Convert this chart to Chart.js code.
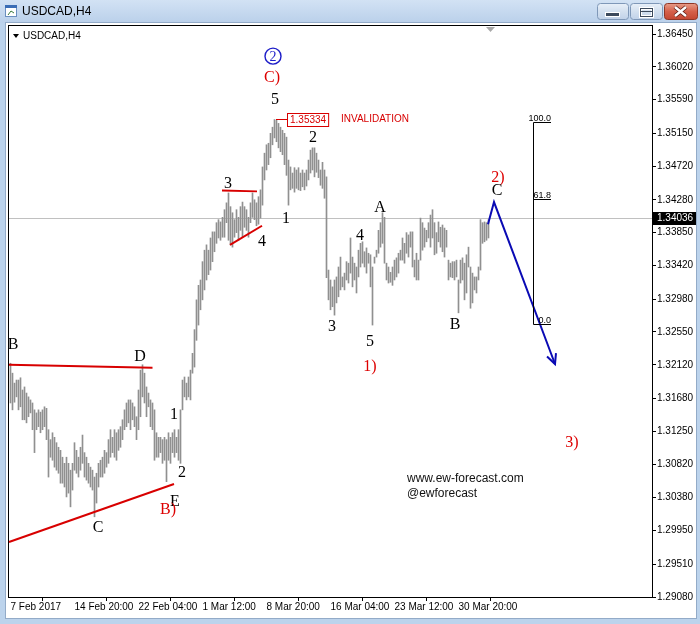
<!DOCTYPE html>
<html><head><meta charset="utf-8">
<script src="https://cdn.jsdelivr.net/npm/chart.js@4/dist/chart.umd.min.js"></script>
<style>html,body{margin:0;padding:0;background:#fff;overflow:hidden}canvas{display:block}</style>
</head><body>
<canvas id="c" width="700" height="624"></canvas>
<script>
// ---- DATA (USDCAD H4 bars, high / low) ----
const barHigh = [
1.3214,1.3201,1.3188,1.3192,1.3192,1.3195,1.3179,1.3183,1.3175,1.3170,
1.3166,1.3162,1.3153,1.3149,1.3153,1.3150,1.3153,1.3157,1.3155,1.3127,
1.3114,1.3123,1.3117,1.3110,1.3104,1.3100,1.3091,1.3083,1.3091,1.3083,
1.3074,1.3083,1.3110,1.3100,1.3091,1.3104,1.3120,1.3097,1.3091,1.3083,
1.3078,1.3074,1.3065,1.3070,1.3083,1.3087,1.3091,1.3100,1.3097,1.3114,
1.3127,1.3117,1.3127,1.3123,1.3127,1.3131,1.3140,1.3153,1.3162,1.3166,
1.3166,1.3162,1.3157,1.3144,1.3179,1.3205,1.3212,1.3201,1.3183,1.3175,
1.3166,1.3162,1.3153,1.3123,1.3117,1.3117,1.3114,1.3117,1.3114,1.3123,
1.3117,1.3123,1.3127,1.3117,1.3127,1.3153,1.3192,1.3196,1.3188,1.3196,
1.3205,1.3227,1.3258,1.3297,1.3316,1.3323,1.3347,1.3362,1.3369,1.3362,
1.3378,1.3386,1.3386,1.3398,1.3402,1.3399,1.3405,1.3415,1.3424,1.3437,
1.3419,1.3411,1.3402,1.3415,1.3405,1.3419,1.3425,1.3419,1.3415,1.3405,
1.3424,1.3437,1.3428,1.3424,1.3432,1.3441,1.3471,1.3489,1.3500,1.3502,
1.3515,1.3523,1.3533,1.3532,1.3528,1.3523,1.3519,1.3515,1.3510,1.3480,
1.3471,1.3463,1.3470,1.3467,1.3470,1.3463,1.3467,1.3463,1.3467,1.3480,
1.3493,1.3496,1.3496,1.3489,1.3480,1.3467,1.3477,1.3467,1.3458,1.3336,
1.3323,1.3314,1.3323,1.3327,1.3340,1.3353,1.3327,1.3332,1.3347,1.3345,
1.3378,1.3353,1.3345,1.3340,1.3362,1.3371,1.3373,1.3360,1.3365,1.3358,
1.3356,1.3340,1.3353,1.3362,1.3388,1.3398,1.3411,1.3405,1.3345,1.3340,
1.3333,1.3340,1.3349,1.3352,1.3358,1.3362,1.3378,1.3371,1.3385,1.3382,
1.3386,1.3386,1.3349,1.3358,1.3349,1.3404,1.3398,1.3391,1.3388,1.3398,
1.3408,1.3415,1.3398,1.3385,1.3399,1.3392,1.3395,1.3391,1.3388,1.3349,
1.3345,1.3347,1.3347,1.3349,1.3323,1.3349,1.3352,1.3345,1.3356,1.3366,
1.3340,1.3332,1.3327,1.3327,1.3340,1.3402,1.3398,1.3399,1.3398,1.3402
];
const barLow = [
1.3162,1.3153,1.3163,1.3170,1.3153,1.3157,1.3140,1.3140,1.3136,1.3144,
1.3149,1.3127,1.3097,1.3127,1.3131,1.3123,1.3127,1.3131,1.3114,1.3065,
1.3091,1.3087,1.3078,1.3074,1.3070,1.3057,1.3057,1.3052,1.3039,1.3044,
1.3026,1.3048,1.3074,1.3070,1.3065,1.3074,1.3083,1.3065,1.3061,1.3057,
1.3052,1.3048,1.3013,1.3031,1.3052,1.3065,1.3065,1.3070,1.3078,1.3083,
1.3091,1.3097,1.3091,1.3087,1.3100,1.3104,1.3114,1.3127,1.3131,1.3136,
1.3127,1.3140,1.3131,1.3114,1.3127,1.3144,1.3170,1.3162,1.3144,1.3157,
1.3131,1.3127,1.3087,1.3091,1.3091,1.3097,1.3083,1.3087,1.3059,1.3087,
1.3083,1.3097,1.3091,1.3097,1.3087,1.3083,1.3153,1.3170,1.3166,1.3170,
1.3166,1.3201,1.3209,1.3244,1.3264,1.3284,1.3297,1.3310,1.3323,1.3330,
1.3336,1.3347,1.3360,1.3371,1.3378,1.3375,1.3379,1.3379,1.3398,1.3375,
1.3369,1.3366,1.3379,1.3385,1.3375,1.3388,1.3379,1.3392,1.3388,1.3379,
1.3398,1.3405,1.3402,1.3394,1.3396,1.3404,1.3421,1.3454,1.3467,1.3474,
1.3483,1.3500,1.3509,1.3504,1.3496,1.3491,1.3487,1.3474,1.3460,1.3421,
1.3441,1.3443,1.3438,1.3443,1.3441,1.3440,1.3445,1.3441,1.3446,1.3454,
1.3463,1.3467,1.3458,1.3464,1.3457,1.3447,1.3443,1.3430,1.3326,1.3297,
1.3284,1.3288,1.3277,1.3293,1.3301,1.3310,1.3314,1.3310,1.3323,1.3319,
1.3332,1.3314,1.3323,1.3306,1.3327,1.3340,1.3345,1.3340,1.3332,1.3345,
1.3314,1.3264,1.3345,1.3353,1.3358,1.3366,1.3371,1.3345,1.3323,1.3319,
1.3320,1.3316,1.3323,1.3327,1.3332,1.3349,1.3349,1.3345,1.3358,1.3353,
1.3366,1.3340,1.3327,1.3323,1.3323,1.3349,1.3362,1.3366,1.3373,1.3378,
1.3366,1.3378,1.3356,1.3358,1.3373,1.3366,1.3360,1.3353,1.3366,1.3323,
1.3327,1.3326,1.3323,1.3327,1.3280,1.3319,1.3323,1.3297,1.3306,1.3340,
1.3286,1.3293,1.3310,1.3306,1.3323,1.3336,1.3371,1.3373,1.3375,1.3378
];
const xTickIndex  = [0, 32, 64, 96, 128, 160, 192, 224];
const xTickLabels = ["7 Feb 2017","14 Feb 20:00","22 Feb 04:00","1 Mar 12:00","8 Mar 20:00","16 Mar 04:00","23 Mar 12:00","30 Mar 20:00"];
const yTickValues = [1.3645,1.3602,1.3559,1.3515,1.3472,1.3428,1.3385,1.3342,1.3298,1.3255,1.3212,1.3168,1.3125,1.3082,1.3038,1.2995,1.2951,1.2908];
const yMin = 1.2908, yMax = 1.36568;
const bidPrice = 1.34036;
const invalidation = 1.35334;

// annotations in (bar index, price)
const redLines = [
  [[-0.75,1.3212],[71,1.3208]],
  [[-0.75,1.2980],[81.75,1.3056]],
  [[105.75,1.3440],[123.25,1.3439]],
  [[109.75,1.3369],[125.75,1.3394]]
];
const bluePath = [[238.75,1.3396],[241.75,1.3425],[272.25,1.3213]];
const fibHigh = 1.3530, fibLow = 1.3265, fibX = 261, fibXEnd = 270.25;
const fibLevels = [100.0, 61.8, 0.0];
const waveLabels = [
  ["C)",130.75,1.3588,"#dd0000"],["5",132.25,1.3559,"#000"],["2",151.25,1.3509,"#000"],
  ["3",108.75,1.3449,"#000"],["1",137.75,1.3403,"#000"],["4",125.75,1.3373,"#000"],
  ["A",184.75,1.3417,"#000"],["4",174.75,1.3381,"#000"],["3",160.75,1.3262,"#000"],
  ["5",179.75,1.3242,"#000"],["1)",179.75,1.3209,"#dd0000"],["B",222.25,1.3264,"#000"],
  ["2)",243.75,1.3457,"#dd0000"],["C",243.25,1.3440,"#000"],["3)",280.75,1.3110,"#dd0000"],
  ["B",1.25,1.3238,"#000"],["D",64.75,1.3222,"#000"],["1",81.75,1.3146,"#000"],
  ["2",85.75,1.3070,"#000"],["E",82.25,1.3033,"#000"],["B)",78.75,1.3022,"#dd0000"],
  ["C",43.75,1.2998,"#000"]
];
const circled = ["2",131.25,1.3616];
const watermark = [["www.ew-forecast.com",198.25,1.3063],["@ewforecast",198.25,1.3043]];

const bars = barHigh.map((h,i)=>({x:i, y:[barLow[i], h]}));

function rr(c,x,y,w,h,r){c.beginPath();c.moveTo(x+r,y);c.lineTo(x+w-r,y);c.quadraticCurveTo(x+w,y,x+w,y+r);c.lineTo(x+w,y+h-r);c.quadraticCurveTo(x+w,y+h,x+w-r,y+h);c.lineTo(x+r,y+h);c.quadraticCurveTo(x,y+h,x,y+h-r);c.lineTo(x,y+r);c.quadraticCurveTo(x,y,x+r,y);c.closePath();}

const chrome = {
  id:'chrome',
  beforeDraw(chart){
    const c = chart.ctx; c.save();
    c.fillStyle='#bcd3ec'; c.fillRect(0,0,700,624);
    let g=c.createLinearGradient(0,0,0,23); g.addColorStop(0,'#d2e2f4'); g.addColorStop(1,'#bad0ea');
    c.fillStyle=g; c.fillRect(0,0,700,23);
    c.fillStyle='#fff'; c.fillRect(6,23,690,595);
    c.strokeStyle='#93abc8'; c.lineWidth=1; c.strokeRect(5.5,22.5,691,596);
    // icon
    c.fillStyle='#fff'; c.fillRect(5,5,12,12); c.strokeStyle='#6a8fbf'; c.strokeRect(5.5,5.5,11,11);
    c.fillStyle='#3a6db5'; c.fillRect(5,5,12,3);
    c.strokeStyle='#3a7a3a'; c.beginPath(); c.moveTo(8,15); c.lineTo(11,11); c.lineTo(14,13); c.stroke();
    // title
    c.fillStyle='#000'; c.font='12px "Liberation Sans", Arial'; c.textBaseline='middle'; c.textAlign='left';
    c.fillText('USDCAD,H4',22,12);
    // buttons
    const btn=(x,w,red)=>{
      let gg=c.createLinearGradient(0,3,0,20);
      if(red){gg.addColorStop(0,'#e8a08c');gg.addColorStop(0.5,'#d5604a');gg.addColorStop(1,'#c34530');}
      else{gg.addColorStop(0,'#eaf1f9');gg.addColorStop(0.5,'#d3e0ef');gg.addColorStop(1,'#bfd1e8');}
      c.fillStyle=gg; rr(c,x+0.5,3.5,w,16,3); c.fill();
      c.strokeStyle=red?'#8e3626':'#7f98b8'; c.stroke();
    };
    btn(597,31,false); btn(630,32,false); btn(664,33,true);
    c.fillStyle='#fff'; c.fillRect(605,12,15,5); c.fillStyle='#3c4a5c'; c.fillRect(606,13,13,3);
    c.strokeStyle='#fff'; c.lineWidth=3; c.strokeRect(640.5,8.5,12,8);
    c.strokeStyle='#3c4a5c'; c.lineWidth=1; c.strokeRect(640.5,8.5,12,8); c.fillStyle='#3c4a5c'; c.fillRect(641,11,11,1);
    c.strokeStyle='#5a1a10'; c.lineWidth=4; c.beginPath(); c.moveTo(675,7); c.lineTo(686,16); c.moveTo(686,7); c.lineTo(675,16); c.stroke();
    c.strokeStyle='#fff'; c.lineWidth=2.5; c.stroke();
    c.restore();
  },
  beforeDatasetsDraw(chart){
    const c=chart.ctx, a=chart.chartArea, y=Math.round(chart.scales.y.getPixelForValue(bidPrice))+0.5;
    c.save(); c.strokeStyle='#c0c0c0'; c.lineWidth=1; c.beginPath(); c.moveTo(a.left,y); c.lineTo(a.right,y); c.stroke(); c.restore();
  },
  afterDraw(chart){
    const c=chart.ctx, a=chart.chartArea, xs=chart.scales.x, ys=chart.scales.y;
    const P=(i,p)=>[xs.getPixelForValue(i), ys.getPixelForValue(p)];
    c.save();
    // plot frame
    c.strokeStyle='#000'; c.lineWidth=1;
    c.strokeRect(8.5,25.5,a.right-8,a.bottom-25);
    // inner title
    c.fillStyle='#000'; c.beginPath(); c.moveTo(13,34); c.lineTo(19,34); c.lineTo(16,38); c.closePath(); c.fill();
    c.font='10px "Liberation Sans", Arial'; c.textBaseline='middle'; c.textAlign='left';
    c.fillText('USDCAD,H4',23,36.5);
    // shift marker
    c.fillStyle='#a8a8a8'; c.beginPath(); c.moveTo(486,27); c.lineTo(495,27); c.lineTo(490.5,32); c.closePath(); c.fill();
    // red lines
    c.strokeStyle='#d80000'; c.lineWidth=2; c.lineCap='butt';
    redLines.forEach(l=>{const p0=P(...l[0]),p1=P(...l[1]); c.beginPath(); c.moveTo(p0[0],p0[1]); c.lineTo(p1[0],p1[1]); c.stroke();});
    // invalidation
    const iy=Math.round(ys.getPixelForValue(invalidation))+0.5;
    const ix0=xs.getPixelForValue(132.75), ix1=xs.getPixelForValue(138.25);
    c.lineWidth=1; c.beginPath(); c.moveTo(ix0,iy); c.lineTo(ix1,iy); c.stroke();
    c.font='10px "Liberation Sans", Arial'; c.textAlign='left';
    const tw=c.measureText(invalidation.toFixed(5)).width;
    c.strokeRect(Math.round(ix1)+0.5,iy-6,tw+5,13);
    c.fillStyle='#d80000'; c.fillText(invalidation.toFixed(5),Math.round(ix1)+3,iy+0.5);
    c.fillText('INVALIDATION',xs.getPixelForValue(165.25),iy-0.5);
    // blue path
    c.strokeStyle='#0a0ab4'; c.lineWidth=2; c.lineJoin='miter';
    c.beginPath(); bluePath.forEach((pt,k)=>{const q=P(...pt); k?c.lineTo(q[0],q[1]):c.moveTo(q[0],q[1]);}); c.stroke();
    const e1=P(...bluePath[1]), e2=P(...bluePath[2]); const ang=Math.atan2(e2[1]-e1[1],e2[0]-e1[0]);
    c.beginPath();
    c.moveTo(e2[0]-11*Math.cos(ang-0.45),e2[1]-11*Math.sin(ang-0.45)); c.lineTo(e2[0],e2[1]);
    c.lineTo(e2[0]-11*Math.cos(ang+0.45),e2[1]-11*Math.sin(ang+0.45)); c.stroke();
    // fibonacci
    c.strokeStyle='#000'; c.lineWidth=1;
    const fx=Math.round(xs.getPixelForValue(fibX))+0.5, fx2=xs.getPixelForValue(fibXEnd);
    const fyT=Math.round(ys.getPixelForValue(fibHigh))+0.5, fyB=Math.round(ys.getPixelForValue(fibLow))+0.5;
    c.beginPath(); c.moveTo(fx,fyT); c.lineTo(fx,fyB); c.stroke();
    c.font='9px "Liberation Sans", Arial'; c.textAlign='right'; c.textBaseline='alphabetic'; c.fillStyle='#000';
    fibLevels.forEach(lv=>{const y=Math.round(ys.getPixelForValue(fibLow+(fibHigh-fibLow)*lv/100))+0.5;
      c.beginPath(); c.moveTo(fx,y); c.lineTo(fx2,y); c.stroke(); c.fillText(lv.toFixed(1),fx2,y-2);});
    // wave labels
    c.textAlign='center'; c.textBaseline='middle'; c.font='16px "Liberation Serif", "Times New Roman", serif';
    waveLabels.forEach(w=>{const q=P(w[1],w[2]); c.fillStyle=w[3]; c.fillText(w[0],q[0],q[1]);});
    // circled 2
    const cq=P(circled[1],circled[2]); c.strokeStyle='#1c1cc8'; c.lineWidth=1.4;
    c.beginPath(); c.arc(cq[0],cq[1],8,0,Math.PI*2); c.stroke();
    c.fillStyle='#1c1cc8'; c.font='14px "Liberation Serif", serif'; c.fillText(circled[0],cq[0],cq[1]+1);
    // watermark
    c.fillStyle='#111'; c.font='12px "Liberation Sans", Arial'; c.textAlign='left';
    watermark.forEach(w=>{const q=P(w[1],w[2]); c.fillText(w[0],q[0],q[1]);});
    // bid label
    const by=Math.round(ys.getPixelForValue(bidPrice));
    c.fillStyle='#000'; c.fillRect(a.right+1,by-6,43,13);
    c.fillStyle='#fff'; c.font='10px "Liberation Sans", Arial'; c.textAlign='left';
    c.fillText(bidPrice.toFixed(5),a.right+5,by+0.5);
    c.restore();
  }
};

new Chart(document.getElementById('c'), {
  type:'bar',
  data:{datasets:[{data:bars, backgroundColor:'#909090', borderWidth:0, barThickness:1}]},
  options:{
    responsive:false, animation:false, devicePixelRatio:1,
    layout:{padding:{left:8, top:25, right:0, bottom:0}},
    plugins:{legend:{display:false}, tooltip:{enabled:false}},
    scales:{
      x:{type:'linear', min:-1.25, max:320.75, position:'bottom', offset:false,
         afterBuildTicks:s=>{s.ticks=xTickIndex.map(v=>({value:v}));},
         afterFit:s=>{s.height=27;},
         ticks:{callback:(v,i)=>xTickLabels[i], align:'start', maxRotation:0, minRotation:0, autoSkip:false,
                color:'#000', font:{family:'"Liberation Sans", Arial', size:10}, padding:0},
         grid:{drawOnChartArea:false, drawTicks:true, tickLength:4, color:'#000'},
         border:{display:false}},
      y:{position:'right', min:yMin, max:yMax,
         afterBuildTicks:s=>{s.ticks=yTickValues.map(v=>({value:v}));},
         afterFit:s=>{s.width=48;},
         ticks:{callback:(v,i)=>yTickValues[i].toFixed(5), autoSkip:false, color:'#000',
                font:{family:'"Liberation Sans", Arial', size:10}, padding:1},
         grid:{drawOnChartArea:false, drawTicks:true, tickLength:4, color:'#000'},
         border:{display:false}}
    }
  },
  plugins:[chrome]
});
</script>
</body></html>
